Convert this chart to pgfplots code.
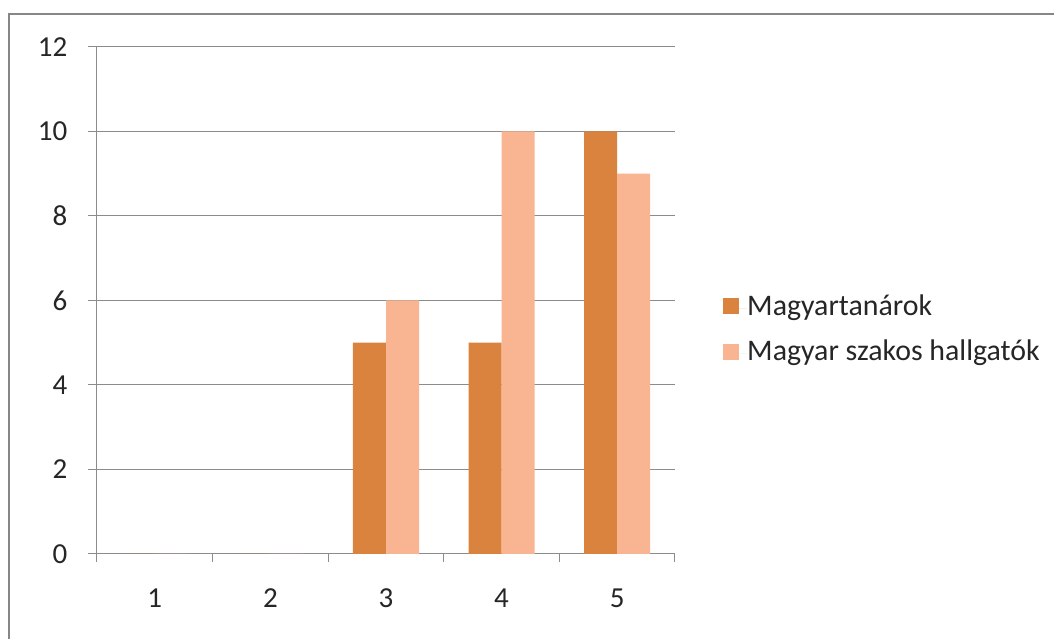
\documentclass[border=0pt]{standalone}
\usepackage{pgfplots}
\pgfplotsset{compat=1.18}
\usepackage{fontspec}
\setmainfont{Carlito}
\definecolor{darkor}{RGB}{217,131,62}
\definecolor{peach}{RGB}{249,181,145}
\definecolor{framegray}{RGB}{134,134,134}
\definecolor{gridgray}{RGB}{140,140,140}
\begin{document}
\begin{tikzpicture}
\useasboundingbox (0,0) rectangle (790.5pt,479.25pt);
\fill[white] (0,0) rectangle (790.5pt,479.25pt);
\draw[framegray, line width=1.5pt] (6.4pt,-2pt) -- (6.4pt,469.1pt) -- (795pt,469.1pt);
\begin{axis}[
  at={(72.75pt,63.75pt)}, anchor=south west,
  scale only axis, width=433.5pt, height=380.25pt,
  ybar, bar width=0.2857, 
  xmin=0.5, xmax=5.5, ymin=0, ymax=12,
  xtick={1,2,3,4,5},
  minor xtick={0.5,1.5,2.5,3.5,4.5,5.5},
  ytick={0,2,4,6,8,10,12},
  axis lines*=left,
  axis line style={gridgray, line width=0.75pt},
  tick align=outside,
  major x tick style={draw=none},
  minor x tick style={gridgray, line width=0.75pt},
  minor tick length=6pt,
  major y tick style={gridgray, line width=0.75pt},
  major tick length=6.75pt,
  ymajorgrids, grid style={gridgray, line width=0.75pt},
  tick label style={font=\fontsize{21.75}{26}\selectfont, text=black!85},
  /pgf/number format/assume math mode=true,
  yticklabel style={xshift=-12pt},
  xticklabel style={yshift=-16pt},
  enlarge x limits=false,
  legend style={draw=none, fill=none, at={(1.083,0.440)}, anchor=west,
    font=\fontsize{22.4}{26}\selectfont, row sep=13pt, inner sep=0pt,
    nodes={inner sep=0pt, text height=16pt, text depth=5pt, text=black!85}},
  legend cell align=left,
  legend image code/.code={\fill[#1] (0pt,-4.6pt) rectangle (12pt,7.4pt); \path (0pt,0pt) -- (18pt,0pt);},
]
\addplot[fill=darkor, draw=none, bar shift=-0.1429] coordinates {(1,0) (2,0) (3,5) (4,5) (5,10)};
\addplot[fill=peach, draw=none, bar shift=0.1429] coordinates {(1,0) (2,0) (3,6) (4,10) (5,9)};
\legend{Magyartanárok, Magyar szakos hallgatók}
\end{axis}
\end{tikzpicture}
\end{document}
